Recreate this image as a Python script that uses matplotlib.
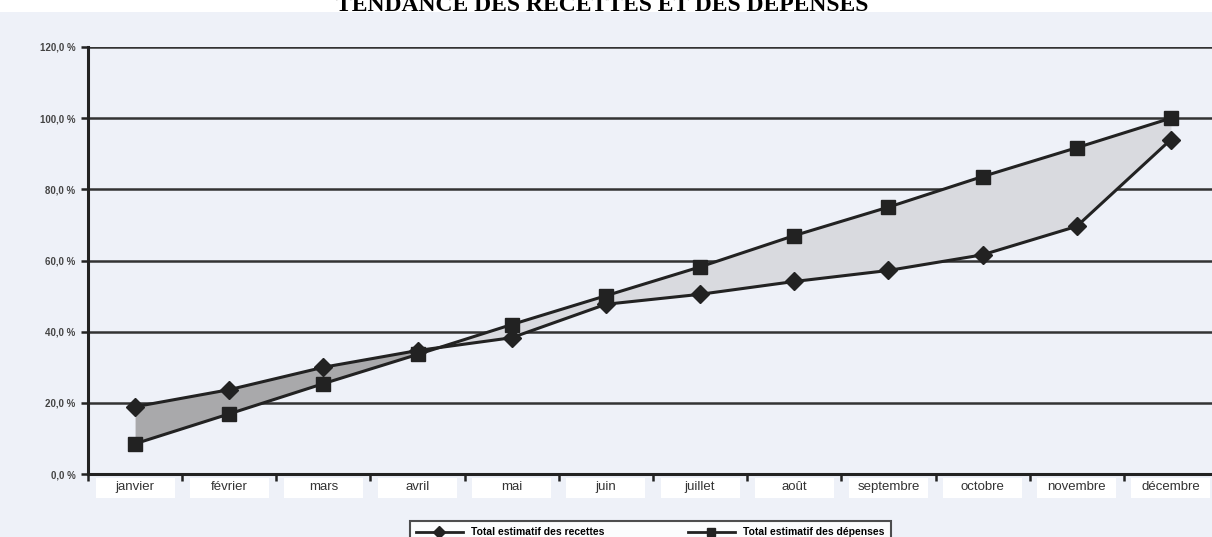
import matplotlib
matplotlib.use("Agg")
import matplotlib.pyplot as plt
import matplotlib.transforms as mtransforms
from matplotlib.patches import Rectangle
from matplotlib.lines import Line2D
import numpy as np

# ---- data ----
months = ["janvier", "février", "mars", "avril", "mai", "juin", "juillet",
          "août", "septembre", "octobre", "novembre", "décembre"]
recettes = [18.9, 23.7, 30.0, 34.7, 38.3, 47.7, 50.5, 54.1, 57.2, 61.6, 69.6, 94.0]
depenses = [8.5, 16.9, 25.4, 33.6, 42.0, 50.1, 58.2, 67.0, 75.0, 83.6, 91.7, 100.0]
y_ticks = [0, 20, 40, 60, 80, 100, 120]
y_labels = ["0,0 %", "20,0 %", "40,0 %", "60,0 %", "80,0 %", "100,0 %", "120,0 %"]
title = "TENDANCE DES RECETTES ET DES DÉPENSES"
legend_labels = ["Total estimatif des recettes", "Total estimatif des dépenses"]

W, H = 1212, 537
fig = plt.figure(figsize=(W / 100, H / 100), dpi=100, facecolor="white")

# scanned page background
fig.patches.append(Rectangle((0, 0), 1, 1 - 12 / H, transform=fig.transFigure,
                             facecolor="#eef1f8", edgecolor="none", zorder=-10))

left, right = 88 / W, 1218 / W
bottom, top = 1 - 474 / H, 1 - 47 / H
ax = fig.add_axes([left, bottom, right - left, top - bottom])
ax.set_facecolor("none")
ax.set_zorder(5)

x = np.arange(len(months))
rec = np.array(recettes)
dep = np.array(depenses)

ax.fill_between(x, rec, dep, where=rec >= dep, interpolate=True,
                color="#a9a9ab", linewidth=0, zorder=2)
ax.fill_between(x, rec, dep, where=dep >= rec, interpolate=True,
                color="#d9dadf", linewidth=0, zorder=2)

ax.plot(x, rec, color="#222222", lw=2.2, marker="D", markersize=9,
        markerfacecolor="#222222", markeredgecolor="#222222", zorder=4)
ax.plot(x, dep, color="#222222", lw=2.2, marker="s", markersize=10,
        markerfacecolor="#222222", markeredgecolor="#222222", zorder=4)

ax.set_xlim(-0.5, len(months) - 0.5)
ax.set_ylim(0, 120)

# grid lines
for v in y_ticks[1:]:
    ax.axhline(v, color="#333333", lw=1.8, zorder=1)

for s in ["top", "right"]:
    ax.spines[s].set_visible(False)
ax.spines["left"].set_linewidth(2.2)
ax.spines["left"].set_color("#222222")
ax.spines["bottom"].set_linewidth(2.2)
ax.spines["bottom"].set_color("#222222")

ax.set_yticks(y_ticks)
ax.set_yticklabels(y_labels, fontsize=7, fontweight="bold", color="#444444",
                   family="Liberation Sans")
ax.tick_params(axis="y", length=5, width=1.8, color="#222222", pad=4)

# x ticks at category boundaries, labels at centres
ax.set_xticks(np.arange(-0.5, len(months), 1.0))
ax.set_xticklabels([])
ax.tick_params(axis="x", length=5, width=1.8, color="#222222", direction="out")

trans = mtransforms.blended_transform_factory(ax.transData, ax.transAxes)
ah = 474 - 47
for i, m in enumerate(months):
    ax.add_patch(Rectangle((i - 0.42, -24 / ah), 0.84, 20 / ah, transform=trans,
                           facecolor="white", edgecolor="none", clip_on=False,
                           zorder=0))
    ax.text(i, -13 / ah, m, transform=trans, ha="center", va="center",
            fontsize=9.5, color="#333333", family="Liberation Sans")

# title (cut at the top of the scan, as in the reference)
fig.text(0.497, 1 - 11 / H, title, ha="center", va="baseline",
         fontsize=17, fontweight="bold", family="Liberation Serif", color="black")

# legend
handles = [Line2D([0], [0], color="#222222", lw=2, marker="D", markersize=6),
           Line2D([0], [0], color="#222222", lw=2, marker="s", markersize=6)]
leg = fig.legend(handles, legend_labels, loc="upper center",
                 bbox_to_anchor=(650 / W, 1 - 516 / H), ncol=2, frameon=True,
                 fancybox=False, edgecolor="#222222", facecolor="white",
                 prop={"family": "Liberation Sans", "size": 7.5, "weight": "bold"},
                 handlelength=4.5, columnspacing=8, borderpad=0.6)
leg.get_frame().set_linewidth(1.5)

fig.savefig("out.png", dpi=100, facecolor="white")
